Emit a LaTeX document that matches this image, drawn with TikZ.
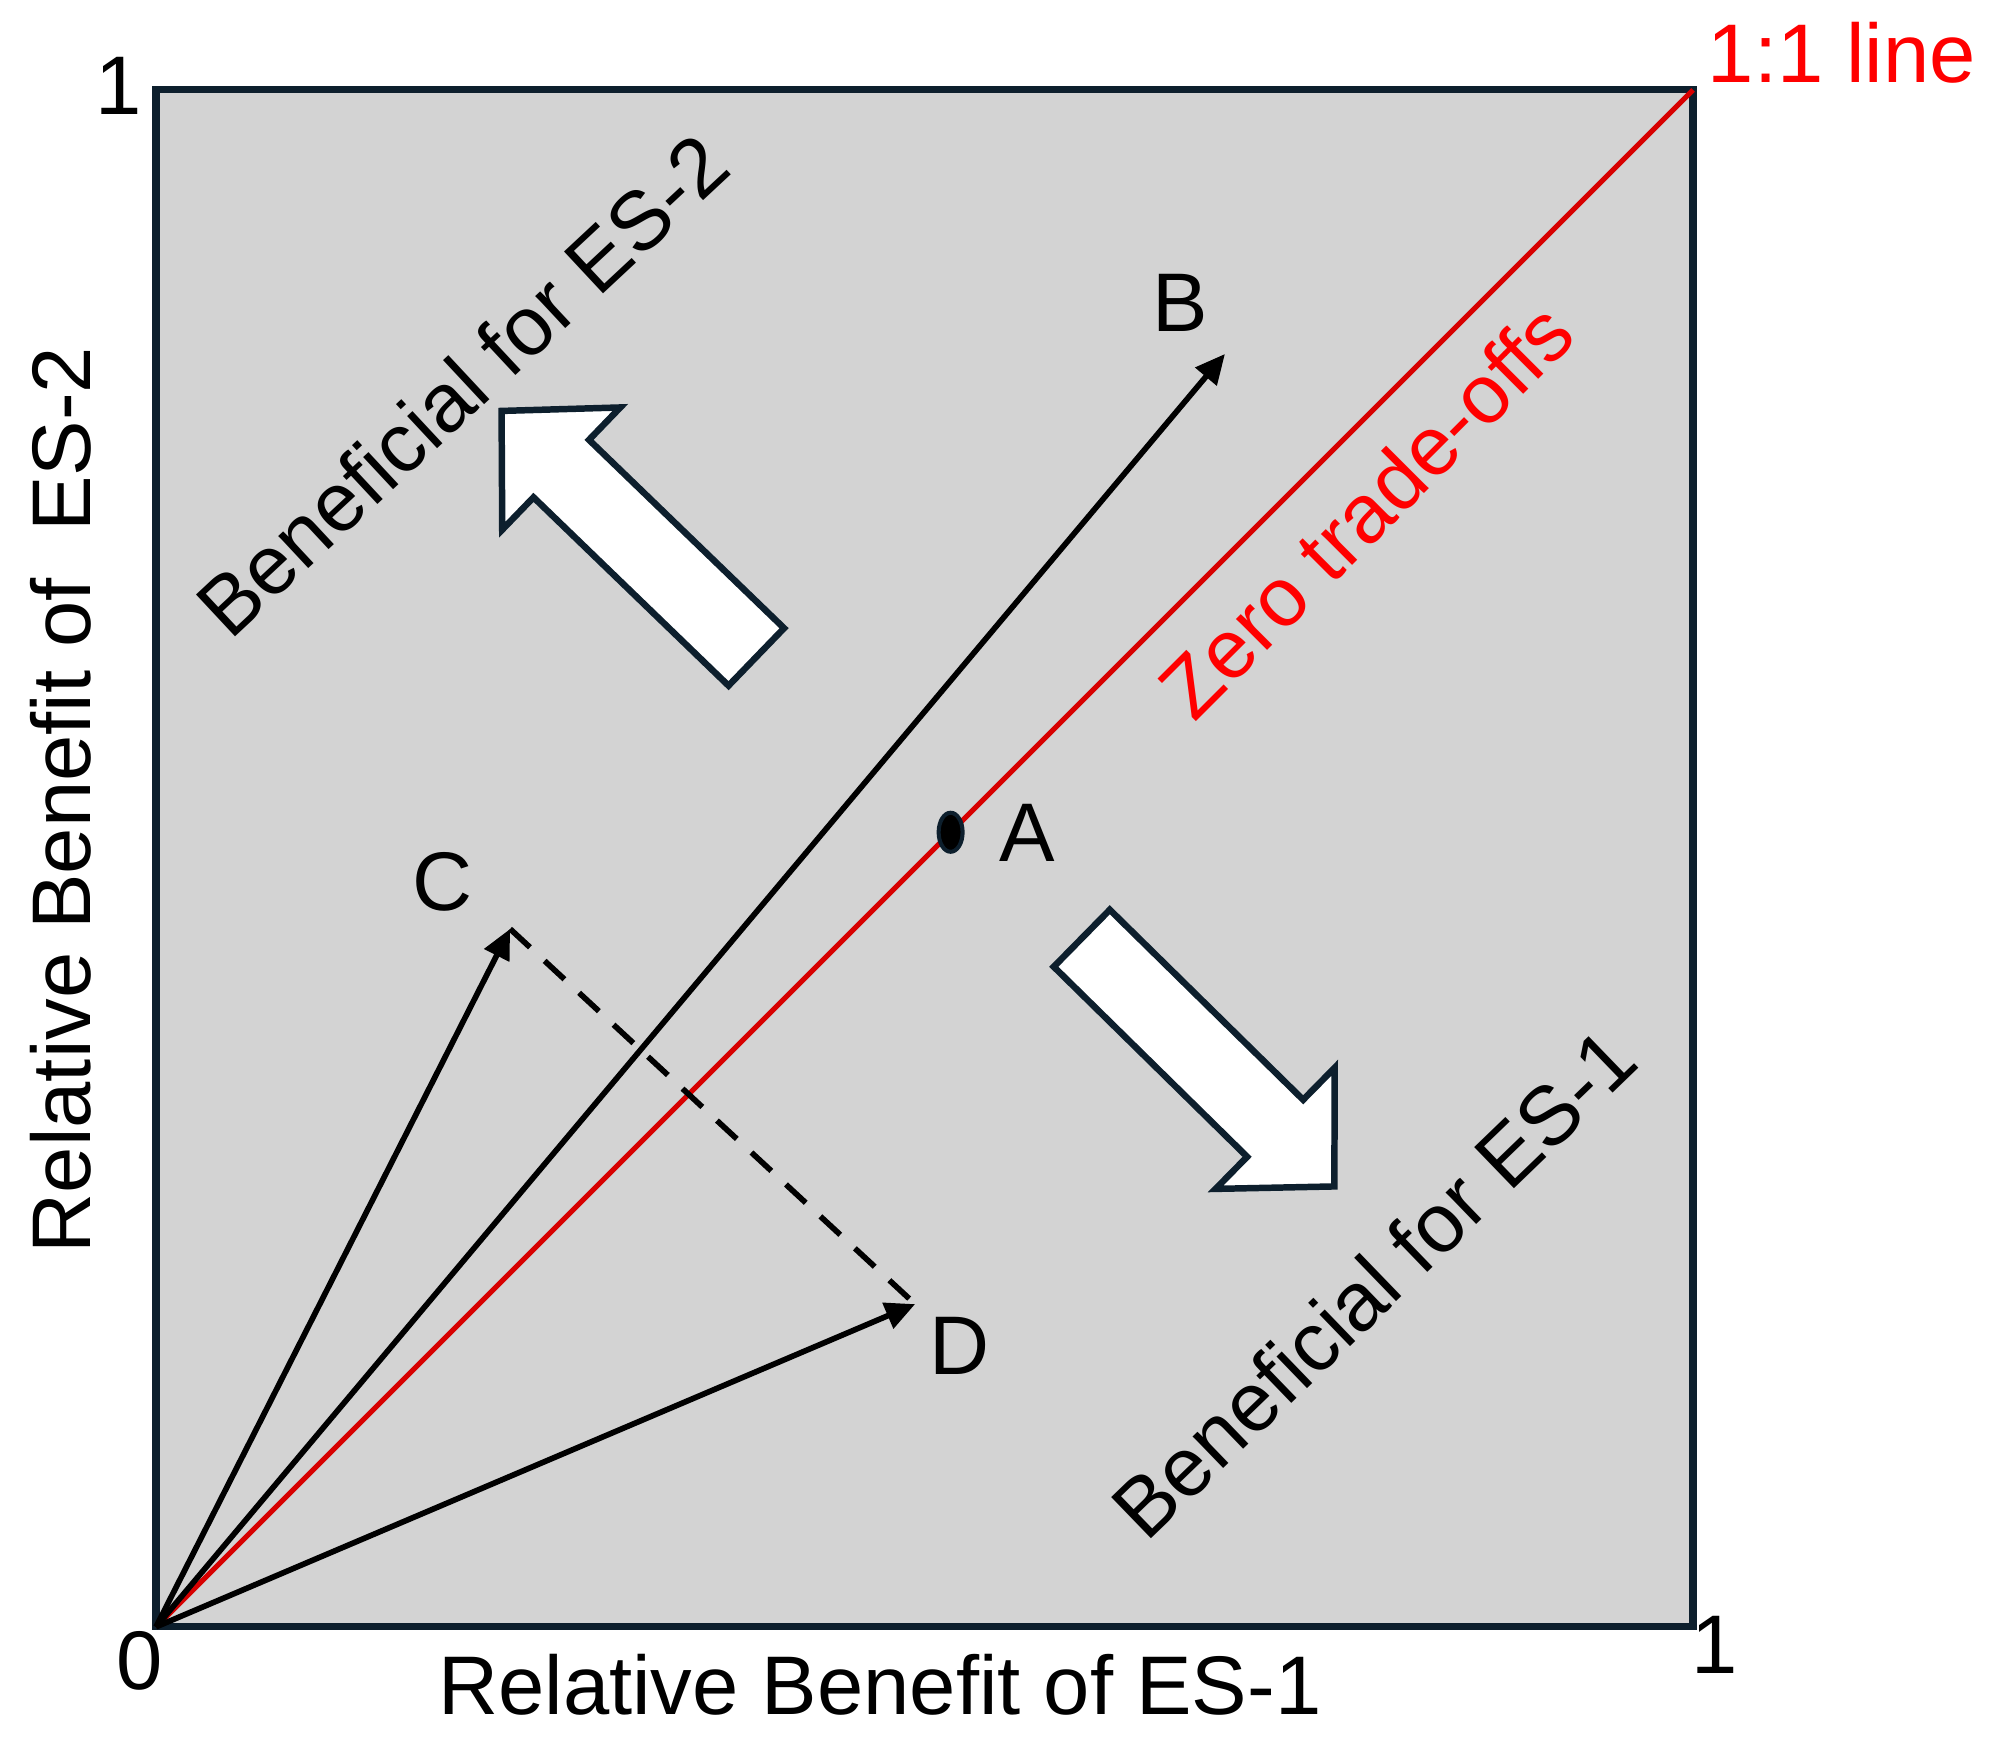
\documentclass[tikz,border=0pt]{standalone}
\usepackage{fontspec}
\setmainfont{Liberation Sans}
\usepackage{tikz}
\usetikzlibrary{arrows.meta,positioning,shapes.geometric}
\definecolor{navy}{RGB}{13,31,45}
\definecolor{panel}{RGB}{211,211,211}
\definecolor{onered}{RGB}{215,0,0}
\newcommand{\lblfont}{\fontsize{15.4}{18}\selectfont}
\tikzset{
  plotbox/.style = {draw=navy, fill=panel, line width=1.3pt},
  oneline/.style = {draw=onered, line width=0.95pt},
  vec/.style     = {line width=1.05pt, -{Triangle[length=5.5pt,width=5pt]}},
  proj/.style    = {line width=1.05pt, dash pattern=on 5pt off 3.7pt},
  ptdot/.style   = {ellipse, fill=black, draw=navy, line width=0.75pt,
                    minimum width=1.56mm, minimum height=2.54mm, inner sep=0pt},
  lbl/.style     = {font=\lblfont, inner sep=0pt},
  lblred/.style  = {lbl, text=red},
  bigarr/.pic    = {
    \draw[draw=navy, fill=white, line width=1.2pt]
      (-1.152,-0.26) -- (0.612,-0.26) -- (0.612,-0.553) -- (1.152,0)
      -- (0.612,0.553) -- (0.612,0.26) -- (-1.152,0.26) -- cycle;
  },
}

\begin{document}
\begin{tikzpicture}
  \useasboundingbox (-1.015,-0.748) rectangle (11.939,10.585);
  % panel
  \draw[plotbox] (0,0) rectangle (10,10);
  \coordinate (O) at (0,0);
  \coordinate (I) at (10,10);
  \coordinate (B) at (6.955,8.282);
  \coordinate (C) at (2.304,4.541);
  \coordinate (D) at (4.939,2.100);
  % axis ticks and titles
  \node[lbl] (yone) at (-0.244,10.029) {1};
  \node[lbl] (zero) at (-0.104,-0.221) {0};
  \node[lbl] (xone) at (10.143,-0.117) {1};
  \node[lbl] (xlab) at (4.710,-0.377) {Relative Benefit of ES-1};
  \node[lbl, rotate=90] (ylab) at (-0.618,5.380) {Relative Benefit of~ ES-2};
  % 1:1 line
  \draw[oneline] (O) -- (I);
  \node[lblred] (oneone) at (10.969,10.241) {1:1 line};
  \node[lblred, rotate=45] (zerotr) at (7.872,7.267) {Zero trade-offs};
  % block arrows
  \pic[rotate=136] at (3.077,7.111) {bigarr};
  \pic[rotate=-44.5] at (6.845,3.673) {bigarr};
  \node[lbl, rotate=43] (ben2) at (1.991,8.080) {Beneficial for ES-2};
  \node[lbl, rotate=44] (ben1) at (7.924,2.238) {Beneficial for ES-1};
  % vectors
  \draw[vec] (O) -- (B);
  \draw[vec] (O) -- (C);
  \draw[vec] (O) -- (D);
  \draw[proj] (C) -- (D);
  \node[ptdot] (A) at (5.17,5.17) {};
  \node[lbl] (labA) at (5.670,5.163) {A};
  \node[lbl] (labB) at (6.662,8.614) {B};
  \node[lbl] (labC) at (1.867,4.847) {C};
  \node[lbl] (labD) at (5.228,1.831) {D};
\end{tikzpicture}
\end{document}
